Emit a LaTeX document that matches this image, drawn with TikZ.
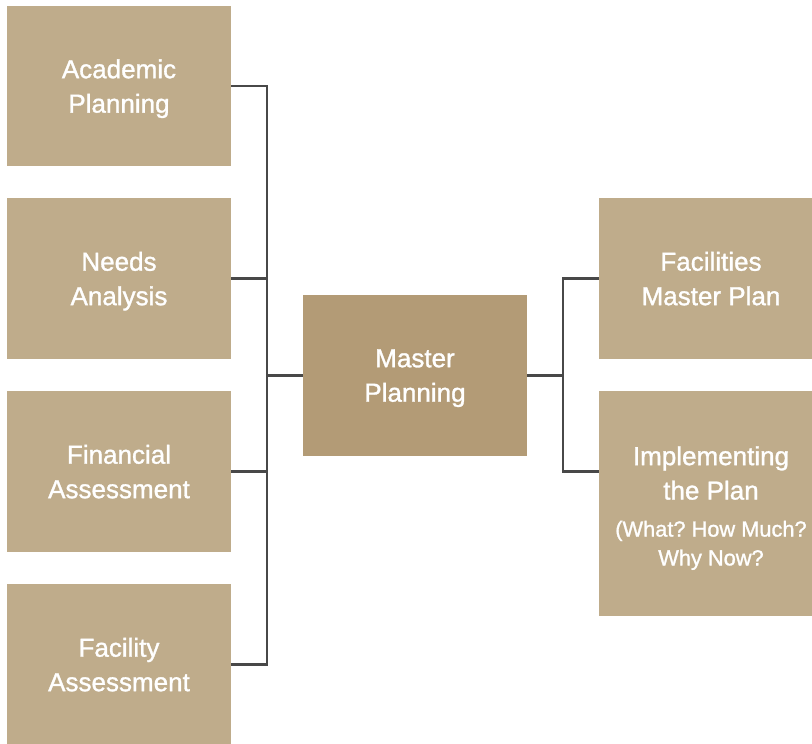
\documentclass[tikz,border=0pt]{standalone}
\usepackage{fontspec}
\setmainfont{Liberation Sans}
\newfontfamily\boxfont{Liberation Sans}[FakeBold=1.2]
\usepackage{xcolor}
\usepackage{tikz}
\usetikzlibrary{positioning}
\frenchspacing

\definecolor{tanbox}{RGB}{191,172,139}
\definecolor{tanmain}{RGB}{179,155,118}
\definecolor{linkgray}{RGB}{72,72,72}

\newcommand{\smalltxt}{\fontsize{15.5}{20.5}\selectfont}

\tikzset{
	block/.style={fill=tanbox, text=white, align=center, minimum width=5.6cm,
		minimum height=4cm, inner sep=0pt, text depth=0pt,
		font=\boxfont\fontsize{18.5}{24.5}\selectfont},
	mainblock/.style={block, fill=tanmain},
	link/.style={draw=linkgray, line width=1.5pt}
}

\begin{document}
\begin{tikzpicture}[x=0.025cm, y=-0.025cm]
		\useasboundingbox (0, 0) rectangle (812, 744);
		\clip (0, 0) rectangle (812, 744);

		% inputs on the left
		\node[block] (acad) at (119, 86) {Academic\\Planning};
		\node[block] (needs) at (119, 278.5) {Needs\\Analysis};
		\node[block] (fin) at (119, 471.5) {Financial\\Assessment};
		\node[block] (facil) at (119, 664.5) {Facility\\Assessment};

		% centre
		\node[mainblock] (master) at (415, 375.5) {Master\\Planning};

		% outputs on the right
		\node[block, minimum height=5.6cm, text height=88pt] (impl) at (711, 503.5)
			{Implementing\\the Plan\\[1.8pt]\smalltxt (What? How Much?\\[-4pt]\smalltxt Why Now?};
		\node[block] (fmp) at (711, 278.5) {Facilities\\Master Plan};

		% junctions
		\coordinate (lj) at (267, 375.5);
		\coordinate (rj) at (563, 375.5);

		% left bus
		\draw[link] (acad.east) -| (lj) -- (master.west);
		\draw[link] (facil.east) -| (lj);
		\draw[link] (needs.east) -- (needs.east -| lj);
		\draw[link] (fin.east) -- (fin.east -| lj);

		% right bus
		\draw[link] (master.east) -- (rj);
		\draw[link] (fmp.west) -| (rj);
		\draw[link] (rj) |- (impl.west |- fin.east);
	\end{tikzpicture}
\end{document}
